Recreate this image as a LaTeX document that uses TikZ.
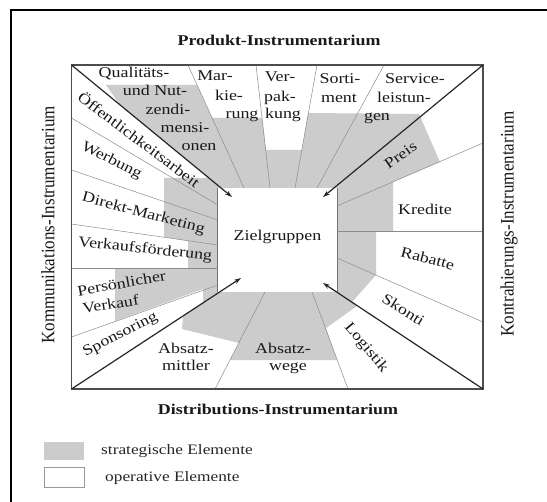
\documentclass[tikz,border=0pt]{standalone}
\usepackage{fontspec}
\setmainfont{Liberation Serif}[FakeStretch=1.2]
\newfontfamily\vfont{Liberation Serif}[FakeStretch=0.9]
\usetikzlibrary{arrows.meta}
\begin{document}
\begin{tikzpicture}[x=1bp,y=-1bp,
  lbl/.style={font=\fontsize{15}{17}\selectfont, inner sep=0pt, anchor=mid, text=black!90},
  hdr/.style={font=\fontsize{15}{17}\selectfont\bfseries, inner sep=0pt, anchor=mid, text=black!90},
  vlbl/.style={font=\vfont\fontsize{19}{21}\selectfont, rotate=90, inner sep=0pt, text=black!90},
  leg/.style={font=\fontsize{14.5}{17}\selectfont, inner sep=0pt, anchor=mid west, text=black!85},
  divider/.style={draw=black!45, line width=0.5bp},
  boxedge/.style={draw=black!55, line width=0.7bp},
  arr/.style={draw=black!85, line width=1.2bp, -{Stealth[length=7bp,width=4.5bp]}},
  strat/.style={fill=black!20},
]
\useasboundingbox (0,0) rectangle (547,502);
\fill[white] (0,0) rectangle (547,502);
% outer frame
\draw[line width=2bp] (11,502) -- (11,10) -- (547,10);

% corners of main rectangle
\coordinate (cTL) at (71.5,65);
\coordinate (cTR) at (483,65);
\coordinate (cBL) at (71.5,389);
\coordinate (cBR) at (483,389);
% arrow tips
\coordinate (tTL) at (232,197);
\coordinate (tTR) at (323,197);
\coordinate (tBL) at (241,278);
\coordinate (tBR) at (323,283);

% strategic (gray) zone
\fill[strat] (106,85) -- (197,85) -- (212,118) -- (262,118) -- (266,150) -- (302,150)
  -- (308,113) -- (419,114) -- (440,162) -- (393,182) -- (393,231) -- (376,231)
  -- (376,275) -- (352,302) -- (357,306) -- (326,328) -- (337,360) -- (230,360)
  -- (239,343) -- (182,329) -- (183,316) -- (203,303) -- (203,289) -- (115,321)
  -- (115,268) -- (188,268) -- (188,241) -- (164,237) -- (164,178) -- (209,178)
  -- (120,105) -- cycle;

% target group box
\node[fill=white, minimum width=119bp, minimum height=104bp, inner sep=0pt] (ziel) at (277.5,240) {};
\node[lbl] (zieltxt) at (277.5,238) {Zielgruppen};
\draw[boxedge] (ziel.north west) -- (ziel.south west);
\draw[boxedge] (ziel.north east) -- (ziel.south east);

% divider end points
\coordinate (qmA) at (188,65);   \coordinate (qmB) at (244,188);
\coordinate (mvA) at (256,65);   \coordinate (mvB) at (270,188);
\coordinate (vsA) at (317,65);   \coordinate (vsB) at (295,188);
\coordinate (ssA) at (384,65);   \coordinate (ssB) at (317,188);
\coordinate (pkA) at (483,143);  \coordinate (pkB) at (337,206);
\coordinate (krA) at (483,231);  \coordinate (krB) at (337,231);
\coordinate (rsA) at (483,322);  \coordinate (rsB) at (337,258);
\coordinate (laA) at (348,389);  \coordinate (laB) at (312,292);
\coordinate (aaA) at (215,389);  \coordinate (aaB) at (265,292);
\coordinate (owA) at (71.5,118); \coordinate (owB) at (218,205);
\coordinate (wdA) at (71.5,170); \coordinate (wdB) at (218,220);
\coordinate (dvA) at (71.5,224); \coordinate (dvB) at (218,245);
\coordinate (vpA) at (71.5,268); \coordinate (vpB) at (218,268);
\coordinate (psA) at (71.5,337); \coordinate (psB) at (218,285);

\foreach \d in {qm,mv,vs,ss,pk,kr,rs,la,aa,ow,wd,dv,vp,ps}
  \draw[divider] (\d A) -- (\d B);

% main rectangle
\draw[line width=1.6bp, draw=black!70] (cTL) rectangle (cBR);

% arrows
\draw[arr] (cTL) -- (tTL);
\draw[arr] (cTR) -- (tTR);
\draw[arr] (cBL) -- (tBL);
\draw[arr] (cBR) -- (tBR);

% headings
\node[hdr] (hProd) at (279,43) {Produkt-Instrumentarium};
\node[hdr] (hDist) at (278,412) {Distributions-Instrumentarium};
\node[vlbl] (hKomm) at (48,225) {Kommunikations-Instrumentarium};
\node[vlbl] (hKontr) at (509,224) {Kontrahierungs-Instrumentarium};

% product elements
\node[lbl] (q1) at (134,75) {Qualitäts-};
\node[lbl] (q2) at (155,93) {und Nut-};
\node[lbl] (q3) at (168,112) {zendi-};
\node[lbl] (q4) at (185,130) {mensi-};
\node[lbl] (q5) at (199,148) {onen};
\node[lbl] (m1) at (215,78) {Mar-};
\node[lbl] (m2) at (229,98) {kie-};
\node[lbl] (m3) at (242,116) {rung};
\node[lbl] (v1) at (280,79) {Ver-};
\node[lbl] (v2) at (280,99) {pak-};
\node[lbl] (v3) at (283,116) {kung};
\node[lbl] (s1) at (340,81) {Sorti-};
\node[lbl] (s2) at (339,100) {ment};
\node[lbl] (l1) at (415,81) {Service-};
\node[lbl] (l2) at (404,100) {leistun-};
\node[lbl] (l3) at (377,118) {gen};

% price elements
\node[lbl, rotate=35] (preis) at (402,157) {Preis};
\node[lbl] (kred) at (425,212) {Kredite};
\node[lbl, rotate=-15] (rab) at (427,261) {Rabatte};
\node[lbl, rotate=-32] (skon) at (402,312) {Skonti};
\node[lbl, rotate=-50] (logi) at (365,349) {Logistik};

% distribution elements
\node[lbl] (am1) at (186,351) {Absatz-};
\node[lbl] (am2) at (186,368) {mittler};
\node[lbl] (aw1) at (283,351) {Absatz-};
\node[lbl] (aw2) at (288,368) {wege};

% communication elements
\node[lbl, rotate=-37] (oeff) at (137,142) {Öffentlichkeitsarbeit};
\node[lbl, rotate=-27] (werb) at (111,162) {Werbung};
\node[lbl, rotate=-15] (dirm) at (143,215) {Direkt-Marketing};
\node[lbl, rotate=-6] (vkf) at (145,251) {Verkaufsförderung};
\node[lbl, rotate=10] (pv1) at (122,286) {Persönlicher};
\node[lbl, rotate=9] (pv2) at (111,307) {Verkauf};
\node[lbl, rotate=27] (spon) at (121,336) {Sponsoring};

% legend
\node[fill=black!20, minimum width=40bp, minimum height=18bp, inner sep=0pt] (legS) at (64,451) {};
\node[draw=black!40, line width=0.6bp, minimum width=40bp, minimum height=20bp, inner sep=0pt] (legO) at (64,477) {};
\node[leg] (legSt) at (101,452) {strategische Elemente};
\node[leg] (legOt) at (105,479) {operative Elemente};
\end{tikzpicture}
\end{document}
